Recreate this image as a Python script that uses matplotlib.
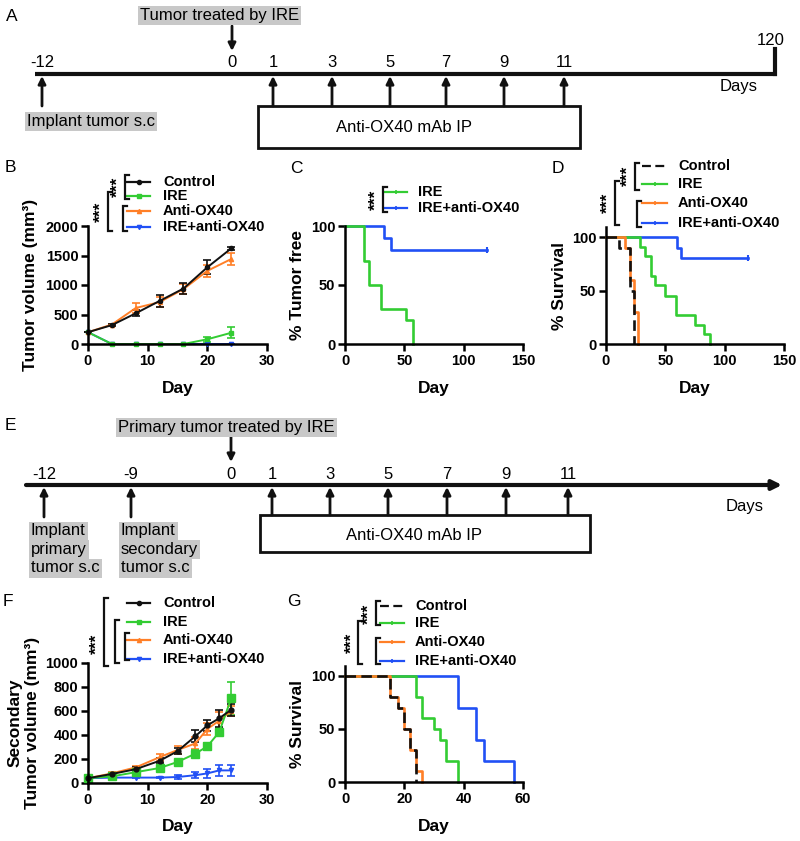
import matplotlib
matplotlib.use('Agg')
import matplotlib.pyplot as plt
from matplotlib.patches import Rectangle

plt.rcParams['font.family'] = ['Liberation Sans', 'DejaVu Sans']
plt.rcParams['font.weight'] = 'bold'
plt.rcParams['axes.labelweight'] = 'bold'

# ---------------- data ----------------
group_names = ['Control', 'IRE', 'Anti-OX40', 'IRE+anti-OX40']

# B: tumor volume
b_days = [0, 4, 8, 12, 16, 20, 24]
b_control = [200, 320, 520, 730, 940, 1300, 1620]
b_control_err = [0, 15, 50, 100, 100, 120, 30]
b_ire = [200, 0, 0, 0, 0, 80, 190]
b_ire_err = [0, 0, 0, 0, 0, 40, 90]
b_anti = [200, 330, 610, 710, 930, 1240, 1440]
b_anti_err = [0, 15, 80, 90, 90, 100, 100]
b_combo = [200, 0, 0, 0, 0, 0, 0]
b_combo_err = [0, 0, 0, 0, 0, 0, 0]

# C: % tumor free (Kaplan-Meier)
c_ire_t = [0, 16, 20, 30, 51, 57]
c_ire_s = [100, 70, 50, 30, 20, 0]
c_combo_t = [0, 33, 39, 120]
c_combo_s = [100, 90, 80, 80]

# D: % survival
d_ctrl_t = [0, 11, 20, 24]
d_ctrl_s = [100, 90, 50, 0]
d_ire_t = [0, 29, 33, 38, 41, 50, 59, 75, 83, 88]
d_ire_s = [100, 91, 82, 64, 55, 45, 27, 18, 9, 0]
d_anti_t = [0, 16, 20, 24, 27]
d_anti_s = [100, 90, 60, 30, 0]
d_combo_t = [0, 60, 63, 120]
d_combo_s = [100, 90, 80, 80]

# F: secondary tumor volume
f_days = [0, 4, 8, 12, 15, 18, 20, 22, 24]
f_control = [40, 75, 115, 185, 265, 390, 480, 540, 610]
f_control_err = [5, 10, 15, 20, 25, 50, 45, 70, 50]
f_ire = [40, 55, 90, 125, 175, 245, 305, 425, 705]
f_ire_err = [5, 5, 10, 15, 15, 30, 30, 30, 140]
f_anti = [40, 80, 130, 215, 275, 330, 450, 520, 600]
f_anti_err = [5, 10, 15, 30, 30, 50, 50, 70, 40]
f_combo = [40, 45, 45, 45, 50, 65, 80, 105, 105]
f_combo_err = [0, 5, 5, 5, 15, 25, 35, 45, 45]

# G: % survival
g_ctrl_t = [0, 15, 18, 20, 22, 24]
g_ctrl_s = [100, 80, 70, 50, 30, 0]
g_anti_t = [0, 15, 18, 20, 22, 24, 26]
g_anti_s = [100, 80, 70, 50, 30, 10, 0]
g_ire_t = [0, 24, 26, 30, 32, 34, 38]
g_ire_s = [100, 80, 60, 50, 40, 20, 0]
g_combo_t = [0, 38, 44, 47, 57]
g_combo_s = [100, 70, 40, 20, 0]

# timelines
a_day_labels = ['-12', '0', '1', '3', '5', '7', '9', '11']
a_day_x = [42, 232, 273, 332, 390, 446, 504, 564]     # schematic layout positions
e_day_labels = ['-12', '-9', '0', '1', '3', '5', '7', '9', '11']
e_day_x = [44, 131, 231, 272, 330, 388, 447, 506, 568]

BLACK = '#111111'
GREEN = '#33cc33'
ORANGE = '#ff7f27'
BLUE = '#2150f5'
GRAY = '#c8c8c8'

W, H = 800, 841
fig = plt.figure(figsize=(8, 8.41), dpi=100)


def add_ax(x0, y0, x1, y1):
    return fig.add_axes([x0 / W, 1 - y1 / H, (x1 - x0) / W, (y1 - y0) / H])


def style(ax, xlim, xticks, ylim, yticks, ylabel, xlab_y_px, ylab_x_px, box):
    x0, y0, x1, y1 = box
    for s in ['top', 'right']:
        ax.spines[s].set_visible(False)
    for s in ['left', 'bottom']:
        ax.spines[s].set_linewidth(1.8)
    ax.set_xlim(*xlim)
    ax.set_ylim(*ylim)
    ax.set_xticks(xticks)
    ax.set_yticks(yticks)
    ax.tick_params(width=1.8, length=5, labelsize=10.5, pad=2)
    ax.set_xlabel('Day', fontsize=12.5)
    ax.set_ylabel(ylabel, fontsize=12.5, linespacing=1.2)
    ax.xaxis.label.set_va('center')
    ax.yaxis.label.set_va('center')
    ax.xaxis.set_label_coords(0.5, -(xlab_y_px - y1) / (y1 - y0))
    ax.yaxis.set_label_coords((ylab_x_px - x0) / (x1 - x0), 0.5)
    ax.patch.set_alpha(0)


def eb(ax, x, y, e, c, m, ms=3):
    ax.errorbar(x, y, yerr=e, color=c, marker=m, ms=ms, lw=1.4, capsize=3,
                elinewidth=1.2, capthick=1.2, clip_on=False)


def km(ax, t, s, c, ls='-', lw=1.9, censor=False):
    ax.step(t, s, where='post', color=c, lw=lw, ls=ls, clip_on=False,
            dashes=(4, 2) if ls == '--' else (None, None))
    if censor:
        ax.plot([t[-1]], [s[-1]], marker='|', ms=5, mew=1.5, color=c, clip_on=False)


# ---------------- panel B ----------------
boxB = (88, 226, 267, 344)
axB = add_ax(*boxB)
eb(axB, b_days, b_combo, b_combo_err, BLUE, 'v')
eb(axB, b_days, b_ire, b_ire_err, GREEN, 's')
eb(axB, b_days, b_anti, b_anti_err, ORANGE, '^')
eb(axB, b_days, b_control, b_control_err, BLACK, 'o')
style(axB, (0, 30), [0, 10, 20, 30], (0, 2000), [0, 500, 1000, 1500, 2000],
      'Tumor volume (mm³)', 388, 31, boxB)

# ---------------- panel C ----------------
boxC = (345, 226, 523, 344)
axC = add_ax(*boxC)
km(axC, c_combo_t, c_combo_s, BLUE, censor=True)
km(axC, c_ire_t, c_ire_s, GREEN)
style(axC, (0, 150), [0, 50, 100, 150], (0, 100), [0, 50, 100],
      '% Tumor free', 388, 297, boxC)

# ---------------- panel D ----------------
boxD = (606, 227, 784, 344)
axD = add_ax(*boxD)
km(axD, d_combo_t, d_combo_s, BLUE, censor=True)
km(axD, d_ire_t, d_ire_s, GREEN)
km(axD, d_anti_t, d_anti_s, ORANGE)
km(axD, d_ctrl_t, d_ctrl_s, BLACK, ls='--')
style(axD, (0, 150), [0, 50, 100, 150], (0, 109.4), [0, 50, 100],
      '% Survival', 388, 560, boxD)

# ---------------- panel F ----------------
boxF = (88, 663, 267, 783)
axF = add_ax(*boxF)
eb(axF, f_days, f_combo, f_combo_err, BLUE, 'v', 3)
eb(axF, f_days, f_anti, f_anti_err, ORANGE, '^', 3)
eb(axF, f_days, f_ire, f_ire_err, GREEN, 's', 5.5)
eb(axF, f_days, f_control, f_control_err, BLACK, 'o', 3.5)
style(axF, (0, 30), [0, 10, 20, 30], (0, 1000), [0, 200, 400, 600, 800, 1000],
      'Secondary\nTumor volume (mm³)', 827, 24, boxF)

# ---------------- panel G ----------------
boxG = (345, 666, 523, 782)
axG = add_ax(*boxG)
km(axG, g_combo_t, g_combo_s, BLUE)
km(axG, g_ire_t, g_ire_s, GREEN)
km(axG, g_anti_t, g_anti_s, ORANGE)
km(axG, g_ctrl_t, g_ctrl_s, BLACK, ls='--')
style(axG, (0, 60), [0, 20, 40, 60], (0, 109.4), [0, 50, 100],
      '% Survival', 827, 298, boxG)

# ---------------- overlay (pixel coords) ----------------
ov = fig.add_axes([0, 0, 1, 1], zorder=10)
ov.set_xlim(0, W)
ov.set_ylim(H, 0)
ov.axis('off')
ov.patch.set_alpha(0)


def letter(x, y, s):
    ov.text(x, y, s, fontsize=12.5, fontweight='normal', ha='left', va='center')


for (x, y, s) in [(6, 16, 'A'), (5, 167, 'B'), (290, 168, 'C'), (552, 168, 'D'),
                  (5, 425, 'E'), (3, 602, 'F'), (287, 602, 'G')]:
    letter(x, y, s)


def legend(names, colors, markers, ys, x0, x1, xt, dashed_first=False, ms=3):
    for i, (n, c, m, y) in enumerate(zip(names, colors, markers, ys)):
        ls = '--' if (dashed_first and i == 0) else '-'
        ov.plot([x0, x1], [y, y], color=c, lw=1.6, ls=ls,
                dashes=(4, 2) if ls == '--' else (None, None))
        if m == '|':
            ov.plot([(x0 + x1) / 2], [y], marker='|', ms=3, mew=1.2, color=c)
        elif m:
            ov.plot([(x0 + x1) / 2], [y], marker=m, ms=ms, color=c)
        ov.text(xt, y, n, fontsize=10.5, fontweight='bold', ha='left', va='center')


def bracket(x, y0, y1, w=4):
    ov.plot([x + w, x, x, x + w], [y0, y0, y1, y1], color=BLACK, lw=1.6,
            solid_joinstyle='miter')


def stars(x, y):
    ov.text(x, y, '***', rotation=90, fontsize=12.5, fontweight='bold',
            ha='center', va='center')


# legend B
colors4 = [BLACK, GREEN, ORANGE, BLUE]
legend(group_names, colors4, ['o', 's', '^', 'v'], [182, 196, 211, 227], 127, 150, 163)
bracket(125, 175, 199)
stars(118, 187)
bracket(108, 192, 231)
stars(101, 212)
bracket(123, 206, 231)

# legend C
legend(['IRE', 'IRE+anti-OX40'], [GREEN, BLUE], ['|', '|'], [192, 208], 385, 407, 418)
bracket(383, 187, 212)
stars(376, 200)

# legend D
legend(group_names, colors4, ['', '|', '|', '|'], [166, 184, 203, 223], 642, 667, 678,
       dashed_first=True)
bracket(635, 163, 190)
stars(628, 176)
bracket(615, 181, 225)
stars(608, 203)
bracket(637, 201, 227)

# legend F
legend(group_names, colors4, ['o', 's', '^', 'v'], [603, 622, 640, 659], 127, 150, 163)
bracket(104, 598, 666)
stars(97, 644)
bracket(115, 620, 663)
bracket(125, 633, 660)

# legend G
legend(group_names, colors4, ['', '|', '|', '|'], [606, 623, 642, 661], 380, 404, 415,
       dashed_first=True)
bracket(376, 601, 625)
stars(369, 614)
bracket(358, 621, 664)
stars(352, 643)
bracket(376, 638, 664)

# ---------------- timelines ----------------
TFS = 12
gray_box = dict(facecolor=GRAY, edgecolor='none', boxstyle='square,pad=0.12')


def arrow(x, y_tail, y_head):
    ov.annotate('', xy=(x, y_head), xytext=(x, y_tail),
                arrowprops=dict(arrowstyle='-|>', lw=2, color=BLACK,
                                mutation_scale=11, shrinkA=0, shrinkB=0))


def ttext(x, y, s, ha='center', box=None):
    ov.text(x, y, s, fontsize=TFS, fontweight='normal', ha=ha, va='center', bbox=box)


# Panel A
ov.plot([35, 777], [74, 74], color=BLACK, lw=3, solid_capstyle='butt')
ov.plot([775, 775], [49, 74], color=BLACK, lw=3)
ttext(771, 40, '120')
ttext(739, 86, 'Days')
for lab, x in zip(a_day_labels, a_day_x):
    ttext(x, 62, lab)
arrow(232, 26, 51)
ttext(140, 15, 'Tumor treated by IRE', ha='left', box=gray_box)
arrow(a_day_x[0], 106, 76)
ttext(27, 121, 'Implant tumor s.c', ha='left', box=gray_box)
ov.add_patch(Rectangle((258, 106), 322, 42, fill=True, facecolor='white',
                       edgecolor=BLACK, lw=2))
ttext(404, 127, 'Anti-OX40 mAb IP')
for x in a_day_x[2:]:
    arrow(x, 106, 76)

# Panel E
ov.annotate('', xy=(782, 485), xytext=(26, 485),
            arrowprops=dict(arrowstyle='-|>', lw=3, color=BLACK,
                            mutation_scale=14, shrinkA=0, shrinkB=0))
ttext(745, 506, 'Days')
for lab, x in zip(e_day_labels, e_day_x):
    ttext(x, 474, lab)
arrow(231, 436, 462)
ttext(118, 427, 'Primary tumor treated by IRE', ha='left', box=gray_box)
arrow(e_day_x[0], 517, 487)
arrow(e_day_x[1], 517, 487)
for i, s in enumerate(['Implant', 'primary', 'tumor s.c']):
    ttext(31, 531 + 18.5 * i, s, ha='left', box=gray_box)
for i, s in enumerate(['Implant', 'secondary', 'tumor s.c']):
    ttext(121, 531 + 18.5 * i, s, ha='left', box=gray_box)
ov.add_patch(Rectangle((260, 515), 330, 37, fill=True, facecolor='white',
                       edgecolor=BLACK, lw=2))
ttext(414, 535, 'Anti-OX40 mAb IP')
for x in e_day_x[3:]:
    arrow(x, 515, 487)

fig.savefig('out.png', dpi=100)
